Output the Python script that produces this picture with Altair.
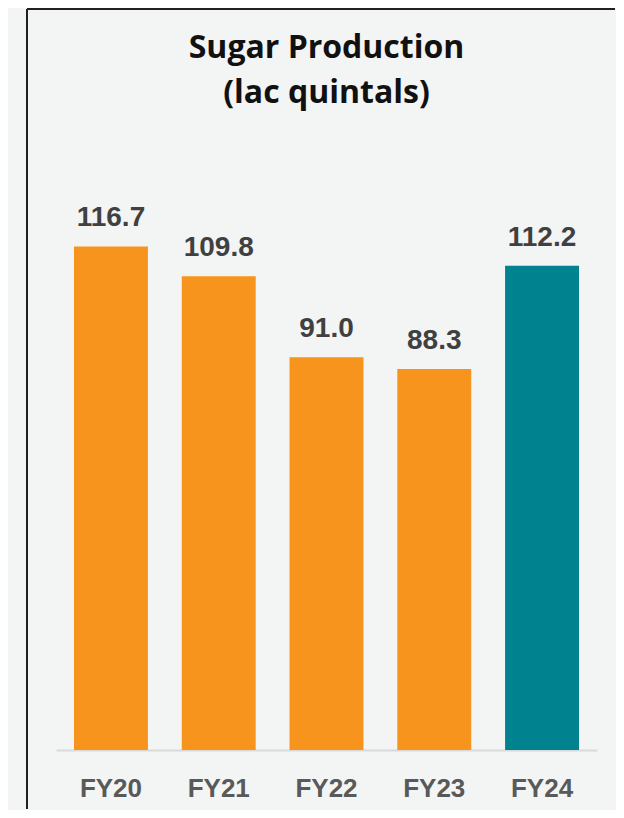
import altair as alt
import pandas as pd

years = ["FY20", "FY21", "FY22", "FY23", "FY24"]
values = [116.7, 109.8, 91.0, 88.3, 112.2]
bar_colors = ["#F7941D", "#F7941D", "#F7941D", "#F7941D", "#00828F"]
labels = ["116.7", "109.8", "91.0", "88.3", "112.2"]

df = pd.DataFrame({"year": years, "value": values, "color": bar_colors, "label": labels})

FONT = "Liberation Sans"

x = alt.X("year:N", sort=years,
          scale=alt.Scale(paddingInner=0.314, paddingOuter=0.167),
          axis=alt.Axis(title=None, labelAngle=0, ticks=False, domainColor="#d9d9d9",
                        domainWidth=2, labelFontSize=26, labelFont=FONT,
                        labelFontWeight="bold", labelColor="#595959",
                        labelBaseline="alphabetic", labelPadding=46))
y = alt.Y("value:Q", scale=alt.Scale(domain=[0, 146]), axis=None)

base = alt.Chart(df)
bars = base.mark_bar().encode(x=x, y=y, color=alt.Color("color:N", scale=None))
text = base.mark_text(baseline="alphabetic", dy=-20, fontSize=28, font=FONT,
                      fontWeight="bold", color="#404040").encode(x=x, y=y, text="label:N")

frame_left = alt.Chart(df).mark_rule(color="#222222", strokeWidth=1.5).encode(
    x=alt.value(-29), y=alt.value(-111), y2=alt.value(689))
frame_top = alt.Chart(df).mark_rule(color="#222222", strokeWidth=1.5).encode(
    x=alt.value(-29), x2=alt.value(559), y=alt.value(-111))

chart = alt.layer(frame_left, frame_top, bars, text).properties(
    width=541, height=630,
    padding={"left": 48, "top": 112, "right": 19, "bottom": 60},
    autosize=alt.AutoSizeParams(type="none"),
    background="#f3f4f4",
    title=alt.Title(["Sugar Production", "(lac quintals)"], fontSize=32, font="Open Sans",
                    fontWeight="bold", color="#111111", anchor="middle",
                    baseline="alphabetic", lineHeight=45, offset=0, dy=127),
).configure_view(stroke=None)

chart.save("out.html", embed_options={"renderer": "svg", "actions": False})
